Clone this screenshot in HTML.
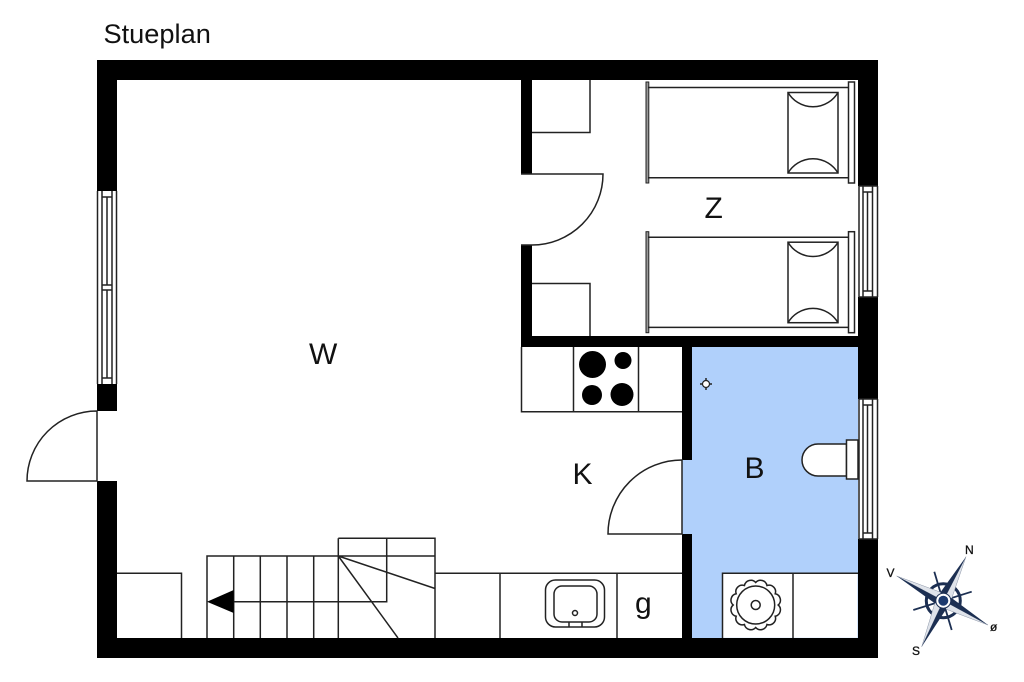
<!DOCTYPE html>
<html><head><meta charset="utf-8"><style>
html,body{margin:0;padding:0;background:#fff;width:1024px;height:682px;overflow:hidden}
svg{display:block}
text{font-family:"Liberation Sans",sans-serif;fill:#111}
.l{fill:none;stroke:#222;stroke-width:1.5}
.w{fill:#fff;stroke:#222;stroke-width:1.5}
</style></head><body>
<svg width="1024" height="682" viewBox="0 0 1024 682" xmlns="http://www.w3.org/2000/svg">
<rect width="1024" height="682" fill="#fff"/>
<text x="103.500" y="43" font-size="27.200">Stueplan</text>

<!-- blue bath -->
<path d="M692 347H858V638H692V534H682V460H692Z" fill="#b0d0fb"/>

<!-- outer walls -->
<path fill-rule="evenodd" d="M97 60H878V658H97ZM117 80V638H858V80Z" fill="#000"/>
<!-- partitions -->
<rect x="521" y="80" width="11" height="94" fill="#000"/>
<rect x="521" y="245" width="11" height="102" fill="#000"/>
<rect x="521" y="336" width="337" height="11" fill="#000"/>
<rect x="682" y="347" width="10" height="113" fill="#000"/>
<rect x="682" y="534" width="10" height="104" fill="#000"/>

<!-- left window -->
<rect x="97" y="191" width="20" height="193" fill="#fff"/>
<path class="l" d="M97.500 191V384M116.500 191V384M102 191V384M112 191V384M102 197H112M102 378H112M102 285H112M102 290H112M107 197V285M107 290V378"/>
<!-- left door -->
<rect x="97" y="411" width="20" height="70" fill="#fff"/>
<path class="l" d="M97 411V481H27A70 70 0 0 1 97 411Z"/>

<!-- right window 1 -->
<rect x="858" y="186" width="20" height="111" fill="#fff"/>
<path class="l" d="M859 186V297M877.500 186V297M859 186H877.500M859 297H877.500M863 186V297M872.500 186V297M863 192H872.500M863 291H872.500M867.500 192V291"/>
<!-- right window 2 -->
<rect x="858" y="399" width="20" height="140" fill="#fff"/>
<path class="l" d="M859 399V539M877.500 399V539M859 399H877.500M859 539H877.500M863 399V539M872.500 399V539M863 405H872.500M863 533H872.500M867.500 405V533"/>

<!-- bedroom door -->
<rect x="521" y="174" width="11" height="71" fill="#fff"/>
<path class="l" d="M521 174H603A71 71 0 0 1 532 245H521"/>
<!-- closets -->
<path class="l" d="M532 132.500H590V80M532 283.500H590V336"/>

<!-- bed 1 -->
<g>
<rect x="646" y="82" width="2.800" height="101" fill="#999" stroke="#222" stroke-width="1"/>
<path class="l" d="M648 87.500H848M648 177.700H848"/>
<rect x="848.500" y="82" width="6" height="101" class="w"/>
<rect x="788" y="92.500" width="50" height="80.500" class="l"/>
<path class="l" d="M788 92.500A29 29 0 0 0 838 92.500M788 173A29 29 0 0 1 838 173"/>
</g>
<!-- bed 2 -->
<g transform="translate(0 149.700)">
<rect x="646" y="82" width="2.800" height="101" fill="#999" stroke="#222" stroke-width="1"/>
<path class="l" d="M648 87.500H848M648 177.700H848"/>
<rect x="848.500" y="82" width="6" height="101" class="w"/>
<rect x="788" y="92.500" width="50" height="80.500" class="l"/>
<path class="l" d="M788 92.500A29 29 0 0 0 838 92.500M788 173A29 29 0 0 1 838 173"/>
</g>

<!-- kitchen top counter -->
<path class="l" d="M521.500 347V411.700H682M573.500 347V411.700M638.500 347V411.700"/>
<circle cx="592.500" cy="364.500" r="13.500" fill="#000"/>
<circle cx="623" cy="360.500" r="8.500" fill="#000"/>
<circle cx="592" cy="395" r="10" fill="#000"/>
<circle cx="622" cy="394.500" r="11.500" fill="#000"/>

<!-- kitchen door -->
<path class="l" d="M682 460V534H608A74 74 0 0 1 682 460Z"/>

<!-- bottom counter -->
<path class="l" d="M435 573.300H682M500 573.300V638M617 573.300V638"/>
<rect x="545.500" y="580" width="59" height="47" rx="10" class="l"/>
<rect x="554" y="586" width="43" height="36" rx="8" class="l"/>
<circle cx="575" cy="613" r="2.500" class="l"/>
<path class="l" d="M569 622V627M582 622V627"/>

<!-- left box -->
<path class="l" d="M117 573.300H181.500V638"/>

<!-- stairs -->
<path class="l" d="M207 638V556H435M233.700 556V638M260.300 556V638M287 556V638M313.700 556V638M338.300 538.300V638M338.300 538.300H435V638M386.700 538.300V601.700H233M338.300 556L435 588.500M338.300 556L398 638"/>
<path d="M207 601.700L233.700 590V613Z" fill="#000"/>

<!-- bath fixtures -->
<rect x="722.500" y="573.800" width="135" height="64" fill="#fff"/>
<path class="l" d="M722.500 638V573.300H858M793 573.300V638"/>
<path class="l" d="M778.200 605A6.500 6.500 0 0 1 775.200 616.250A6.500 6.500 0 0 1 766.950 624.500A6.500 6.500 0 0 1 755.700 627.500A6.500 6.500 0 0 1 744.450 624.500A6.500 6.500 0 0 1 736.200 616.250A6.500 6.500 0 0 1 733.200 605A6.500 6.500 0 0 1 736.200 593.750A6.500 6.500 0 0 1 744.450 585.500A6.500 6.500 0 0 1 755.700 582.500A6.500 6.500 0 0 1 766.950 585.500A6.500 6.500 0 0 1 775.200 593.750A6.500 6.500 0 0 1 778.200 605Z"/>
<circle cx="755.700" cy="605" r="19" class="l"/>
<circle cx="755.700" cy="605" r="4.500" class="l"/>

<!-- toilet -->
<path class="w" d="M846.500 444H818A16 16 0 0 0 818 476H846.500Z"/>
<rect x="846.500" y="440" width="11.500" height="39" class="w"/>

<!-- floor point -->
<circle cx="706" cy="384" r="3.500" fill="#fff" stroke="#222" stroke-width="1.200"/>
<path class="l" d="M706 378V380.500M706 387.500V390M700 384H702.500M709.500 384H712"/>

<!-- room labels -->
<text x="309" y="364" font-size="30">W</text>
<text x="704.500" y="218" font-size="30">Z</text>
<text x="572.500" y="484" font-size="30">K</text>
<text x="744.500" y="478" font-size="30">B</text>
<text x="635" y="613" font-size="30">g</text>

<!-- compass -->
<g>
<path d="M934.300 571.700L951.700 630M971.700 591.700L913.300 610" stroke="#1c2f52" stroke-width="1.800" fill="none"/>
<circle cx="943.300" cy="600.700" r="17" fill="none" stroke="#1c2f52" stroke-width="3"/>
<path d="M943.300 600.700L966 556.700L951.800 598.100Z" fill="#dfe3ea" stroke="#8a94a6" stroke-width=".5"/>
<path d="M943.300 600.700L988 625L946.100 609.200Z" fill="#dfe3ea" stroke="#8a94a6" stroke-width=".5"/>
<path d="M943.300 600.700L921.700 646.700L934.800 603.300Z" fill="#dfe3ea" stroke="#8a94a6" stroke-width=".5"/>
<path d="M943.300 600.700L896.700 576L940.500 592.200Z" fill="#dfe3ea" stroke="#8a94a6" stroke-width=".5"/>
<path d="M943.300 600.700L966 556.700L940.500 592.200Z" fill="#1c2f52"/>
<path d="M943.300 600.700L988 625L951.800 598.100Z" fill="#1c2f52"/>
<path d="M943.300 600.700L921.700 646.700L946.100 609.200Z" fill="#1c2f52"/>
<path d="M943.300 600.700L896.700 576L934.800 603.300Z" fill="#1c2f52"/>
<circle cx="943.300" cy="600.700" r="7.500" fill="#fff" stroke="#1c2f52" stroke-width="1"/>
<circle cx="943.300" cy="600.700" r="5" fill="#1c3a6e"/>
<text x="965" y="554" font-size="12" stroke="#111" stroke-width=".3">N</text>
<text x="886.500" y="577" font-size="12" stroke="#111" stroke-width=".3">V</text>
<text x="990" y="631" font-size="12" stroke="#111" stroke-width=".3">ø</text>
<text x="912" y="655" font-size="12" stroke="#111" stroke-width=".3">S</text>
</g>
</svg>
</body></html>
